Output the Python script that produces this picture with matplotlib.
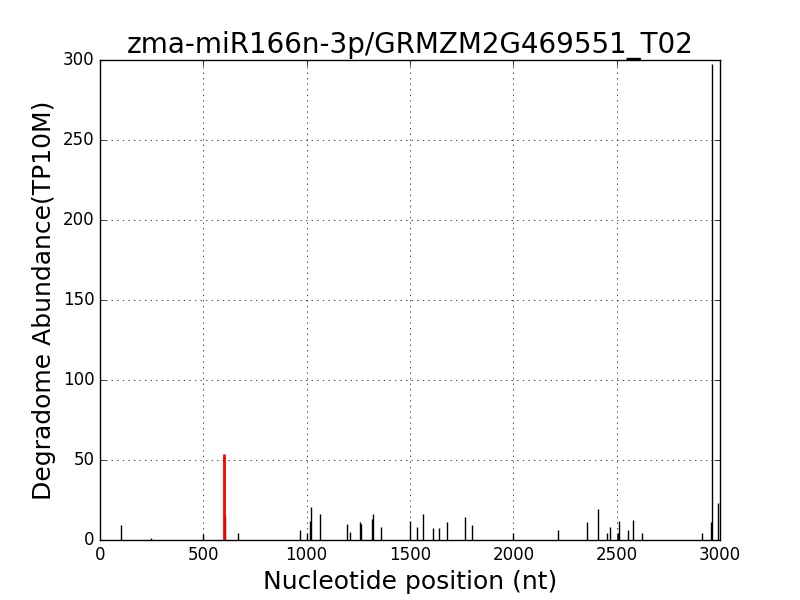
import matplotlib
matplotlib.use("Agg")
import matplotlib.pyplot as plt

# cleavage site (red)
site_pos = [600]
site_abund = [53.5]

# other degradome tags
positions = [103, 247, 500, 604, 669, 969, 1003, 1015, 1019, 1066, 1197, 1208,
             1258, 1263, 1318, 1323, 1361, 1502, 1536, 1565, 1613, 1642, 1681,
             1768, 1798, 2000, 2218, 2358, 2411, 2455, 2469, 2505, 2513, 2556,
             2580, 2624, 2914, 2958, 2963, 2990]
abundance = [9.2, 1.5, 3.7, 15.0, 4.2, 6.0, 4.2, 12.0, 20.4, 16.2, 9.8, 4.8,
             11.0, 10.0, 12.9, 16.2, 7.9, 12.1, 7.9, 16.2, 7.3, 7.3, 11.0,
             14.2, 9.2, 4.2, 6.0, 11.0, 19.2, 4.2, 7.9, 4.2, 12.1, 6.0,
             12.3, 4.2, 4.6, 11.5, 297.5, 23.3]

plt.style.use('classic')
fig, ax = plt.subplots(figsize=(8, 6), dpi=100, facecolor='white')
ax.vlines(positions, 0, abundance, color='black', linewidth=1)
ax.vlines(site_pos, 0, site_abund, color='red', linewidth=2)
ax.set_xlim(0, 3000)
ax.set_ylim(0, 300)
ax.grid(True)
ax.set_title('zma-miR166n-3p/GRMZM2G469551_T02', fontsize=20)
ax.set_xlabel('Nucleotide position (nt)', fontsize=18)
ax.set_ylabel('Degradome Abundance(TP10M)', fontsize=18)
ax.tick_params(labelsize=12)
fig.savefig('out.png', facecolor='white')
